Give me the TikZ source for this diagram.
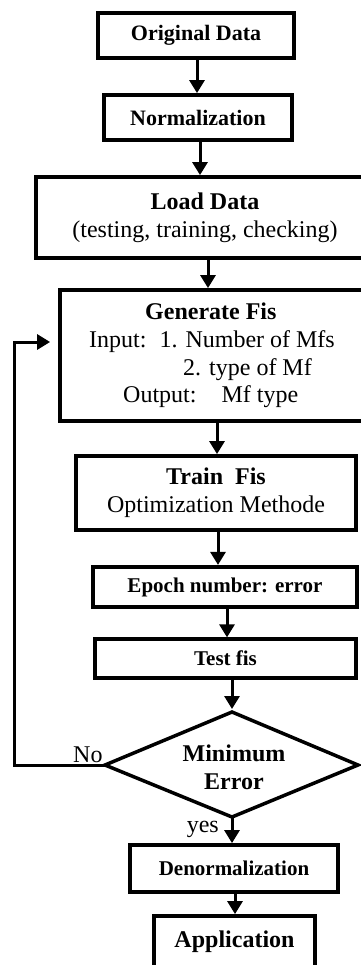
\documentclass[tikz,border=0pt]{standalone}
\usepackage{fontspec}
\setmainfont{Liberation Serif}
\usetikzlibrary{arrows.meta,calc}
\begin{document}
\begin{tikzpicture}[x=1pt,y=-1pt,
  box/.style={draw, line width=3.8pt, rectangle, inner sep=0pt, align=center},
  big/.style={font=\fontsize{24}{27.7}\selectfont},
  mid/.style={font=\fontsize{22}{26}\selectfont\bfseries},
  sml/.style={font=\fontsize{21}{25}\selectfont\bfseries},
  arr/.style={line width=3pt, -{Triangle[length=13pt,width=15pt]}},
  lbl/.style={inner sep=0pt, font=\fontsize{24}{28}\selectfont}]
\useasboundingbox (0,0) rectangle (360,965);

\node[box, mid, minimum width=196pt, minimum height=45pt] (od) at (196,35.5) {Original Data};
\node[box, mid, minimum width=188pt, minimum height=45pt] (nm) at (198,117.5) {Normalization};
\node[box, big, minimum width=338pt, minimum height=81pt] (ld) at (205,217.5)
  {\textbf{Load Data}\\(testing, training, checking)};
\node[box, big, minimum width=304pt, minimum height=131pt, align=left] (gen) at (212,355.5)
  {\hspace*{56pt}\textbf{Generate Fis}\\
   Input:\hspace{13pt}1. Number of Mfs\\
   \hspace*{94pt}2. type of Mf\\
   \hspace*{34pt}Output:\hspace{25pt}Mf type};
\node[box, big, minimum width=280pt, minimum height=74pt] (tr) at (216,493)
  {\textbf{Train\ \ Fis}\\Optimization Methode};
\node[box, sml, minimum width=264pt, minimum height=40pt, line width=4.2pt] (ep) at (225,587) {Epoch number: error};
\node[box, sml, minimum width=261pt, minimum height=39pt, line width=3.3pt] (ts) at (225.5,658.5) {Test fis};

\coordinate (dT) at (232,712);
\coordinate (dR) at (358,765);
\coordinate (dB) at (232,817);
\coordinate (dL) at (105,765);
\draw[line width=3.5pt, line join=miter] (dT) -- (dR) -- (dB) -- (dL) -- cycle;
\node[big, align=center, inner sep=0pt, font=\fontsize{24}{28}\selectfont\bfseries] (dm) at (234,767) {Minimum\\Error};

\node[box, sml, minimum width=208pt, minimum height=47pt] (dn) at (234,868.5) {Denormalization};
\node[box, big, minimum width=161pt, minimum height=52pt] (ap) at (234.5,942) {\textbf{Application}};

\node[lbl, anchor=base west] (no) at (73,762) {No};
\node[lbl, anchor=base east] (yes) at (219,832) {yes};

\coordinate (x1) at (197,0);
\coordinate (x2) at (200,0);
\coordinate (x3) at (208,0);
\coordinate (x4) at (217,0);
\coordinate (x5) at (218,0);
\coordinate (x6) at (227,0);
\coordinate (x7) at (232,0);
\coordinate (x8) at (232,0);
\coordinate (x9) at (235,0);
\coordinate (lx) at (14,0);
\coordinate (ly) at (0,342);

\draw[arr] (od.south -| x1) -- (nm.north -| x1);
\draw[arr] (nm.south -| x2) -- (ld.north -| x2);
\draw[arr] (ld.south -| x3) -- (gen.north -| x3);
\draw[arr] (gen.south -| x4) -- (tr.north -| x4);
\draw[arr] (tr.south -| x5) -- (ep.north -| x5);
\draw[arr] (ep.south -| x6) -- (ts.north -| x6);
\draw[arr, shorten >=3pt] (ts.south -| x7) -- (dT);
\draw[arr] (dB) -- (dn.north -| x8);
\draw[arr] (dn.south -| x9) -- (ap.north -| x9);
\draw[arr, line join=miter, shorten >=8pt] (dL) -- (dL -| lx) |- (gen.west |- ly);
\end{tikzpicture}
\end{document}
